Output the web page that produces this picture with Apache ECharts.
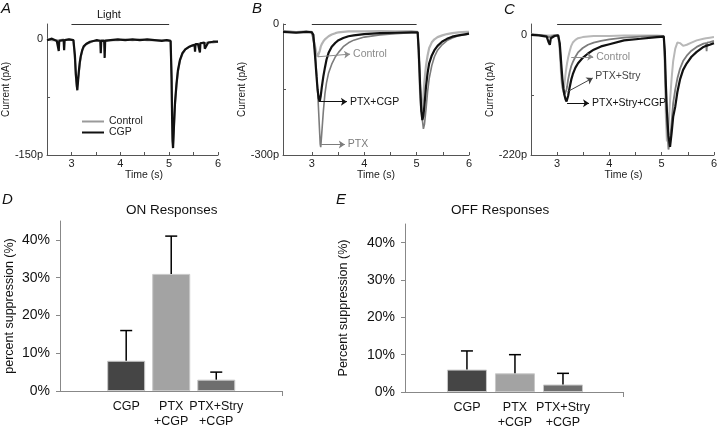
<!DOCTYPE html>
<html><head><meta charset="utf-8">
<script src="https://cdn.jsdelivr.net/npm/echarts@6/dist/echarts.min.js"></script>
<style>html,body{margin:0;padding:0;background:#fff}#c{width:720px;height:430px}</style>
</head><body><div id="c"></div>
<script>
// ---------- Panel A: time (s) and current (pA) ----------
const tA = [2.5,2.6,2.7,2.73,2.74,2.75,2.84,2.85,2.86,2.95,
  3.04,3.07,3.09,3.11,3.12,3.13,3.15,3.17,3.19,3.22,
  3.25,3.3,3.38,3.45,3.52,3.59,3.6,3.61,3.67,3.68,
  3.69,3.8,3.95,4.1,4.25,4.4,4.55,4.7,4.85,4.95,
  5.03,5.05,5.06,5.07,5.08,5.1,5.12,5.15,5.18,5.22,
  5.27,5.33,5.4,5.47,5.52,5.53,5.54,5.59,5.62,5.63,
  5.64,5.72,5.73,5.8,5.9,6.0];
const aCGP = [-1,1,-2,-1,-15,-2,-1,-14,-1,0,
  -1,-20,-45,-60,-66,-58,-42,-30,-22,-14,
  -9,-6,-3,-2,-1,-2,-18,-2,-2,-24,
  -2,-1,0,-1,0,-1,0,-1,-2,-1,
  -2,-50,-100,-132,-141,-110,-82,-58,-40,-27,
  -18,-13,-10,-8,-7,-16,-6,-6,-5,-17,
  -5,-4,-12,-4,-3,-3];
const aControl = [0,-1,-1,0,-3,-1,0,-4,-1,0,
  -1,-25,-48,-62,-64,-60,-45,-32,-23,-15,
  -10,-6,-4,-2,-2,-1,-3,-1,-1,-5,
  -1,-1,-1,0,-1,0,-1,-1,-1,-1,
  -2,-55,-100,-128,-136,-112,-85,-60,-42,-28,
  -19,-13,-10,-8,-7,-8,-7,-6,-6,-6,
  -5,-5,-5,-4,-4,-3];

// ---------- Panel B ----------
const tB = [2.45,2.7,2.9,3.0,3.03,3.06,3.09,3.11,3.13,3.15,
  3.16,3.17,3.19,3.22,3.25,3.28,3.32,3.38,3.45,3.51,
  3.6,3.7,3.8,4.0,4.3,4.6,4.9,5.02,5.04,5.07,
  5.09,5.11,5.13,5.15,5.18,5.21,5.24,5.29,5.34,5.4,
  5.49,5.58,5.68,5.8,5.95,6.0];
const bPtxCgp = [-18,-20,-18,-19,-25,-70,-120,-150,-170,-178,
  -175,-165,-145,-120,-100,-82,-66,-52,-43,-37,
  -32,-28,-26,-23,-21,-20,-19,-19,-60,-150,
  -200,-220,-210,-185,-143,-112,-90,-72,-60,-50,
  -40,-34,-29,-26,-23,-22];
const bPtx = [-16,-18,-17,-18,-22,-60,-110,-150,-200,-250,
  -275,-282,-250,-200,-160,-135,-112,-92,-75,-65,
  -52,-43,-37,-30,-25,-22,-20,-20,-55,-140,
  -190,-220,-240,-230,-195,-155,-125,-95,-75,-60,
  -47,-38,-32,-27,-24,-23];
const bControl = [-17,-19,-18,-18,-22,-50,-68,-75,-72,-62,
  -57,-52,-46,-40,-35,-31,-28,-24,-21,-19,
  -18,-17,-17,-17,-16,-17,-16,-18,-70,-170,
  -200,-190,-165,-130,-95,-72,-55,-42,-35,-30,
  -26,-23,-21,-19,-18,-18];

// ---------- Panel C ----------
const tC = [2.5,2.65,2.8,2.84,2.86,2.88,2.95,3.02,3.05,3.08,
  3.1,3.12,3.14,3.16,3.18,3.19,3.21,3.24,3.27,3.3,
  3.35,3.4,3.49,3.59,3.7,3.84,4.0,4.28,4.6,4.91,
  5.04,5.06,5.08,5.1,5.13,5.16,5.19,5.22,5.26,5.3,
  5.35,5.41,5.48,5.57,5.67,5.8,5.85,5.86,5.87,5.92,
  6.0];
const cPtxStryCgp = [0,-1,-3,-14,-18,-6,-2,-1,-15,-55,
  -80,-98,-110,-118,-122,-122,-112,-96,-82,-72,
  -60,-52,-42,-34,-27,-21,-17,-10,-7,-4,
  -3,-30,-90,-140,-185,-205,-180,-150,-131,-105,
  -82,-64,-52,-40,-31,-22,-20,-19,-19,-18,
  -15];
const cPtxStry = [1,0,-2,-4,-5,-3,-1,-1,-20,-65,
  -90,-104,-110,-110,-100,-95,-82,-68,-57,-50,
  -40,-32,-24,-18,-14,-11,-8,-5,-3,-2,
  -2,-40,-110,-165,-210,-195,-160,-125,-100,-80,
  -62,-48,-38,-29,-22,-16,-15,-30,-14,-13,
  -11];
const cControl = [1,0,-1,-1,-2,-1,0,0,-30,-80,
  -97,-101,-90,-72,-58,-52,-42,-30,-20,-14,
  -9,-6,-4,-3,-2,-2,-2,-1,-1,-1,
  -2,-60,-150,-195,-170,-120,-80,-48,-25,-14,
  -15,-20,-18,-14,-10,-7,-6,-6,-6,-5,
  -4];

// ---------- Panels D / E ----------
const barCats = ['CGP', 'PTX\n+CGP', 'PTX+Stry\n+CGP'];
const onVal = [8, 31, 3];
const onErr = [8, 10, 2];
const offVal = [6, 5, 2];
const offErr = [5, 5, 3];
const pctTicks = [0, 10, 20, 30, 40];

// tick labels
const timeTicks = [3, 4, 5, 6];
const timeMinor = [3, 3.5, 4, 4.5, 5, 5.5, 6];

const FONT = '"Liberation Sans", Arial, sans-serif';
const pairs = (t, v) => t.map((x, i) => [x, v[i]]);
const chart = echarts.init(document.getElementById('c'));

function traceX(gi, min, gap, padLeft) {
  return {
    type: 'value', gridIndex: gi, min: min, max: 6,
    axisLine: {show: true, onZero: false, lineStyle: {color: '#555', width: 1}},
    axisTick: {show: true, inside: true, length: 3, customValues: timeMinor, lineStyle: {color: '#555'}},
    axisLabel: {customValues: timeTicks, color: '#222', fontSize: 11, margin: 3, fontFamily: FONT},
    splitLine: {show: false},
    name: 'Time (s)', nameLocation: 'middle', nameGap: gap,
    nameTextStyle: {fontSize: 10.5, color: '#222', fontFamily: FONT, padding: [0, 0, 0, padLeft]}
  };
}
function traceY(gi, min, max, ticks, labels) {
  return {
    type: 'value', gridIndex: gi, min: min, max: max,
    axisLine: {show: true, onZero: false, lineStyle: {color: '#555', width: 1}},
    axisTick: {show: true, inside: true, length: 3, customValues: ticks, lineStyle: {color: '#555'}},
    axisLabel: {customValues: labels, formatter: v => v === 0 ? '0' : v + 'p', color: '#222', fontSize: 11, margin: 4, fontFamily: FONT},
    splitLine: {show: false},
    name: 'Current (pA)', nameLocation: 'middle', nameGap: 20,
    nameTextStyle: {fontSize: 10, color: '#222', fontFamily: FONT}
  };
}
function barX(gi, min, max) {
  return {
    type: 'value', gridIndex: gi, min: min, max: max,
    axisLine: {show: true, onZero: false, lineStyle: {color: '#888', width: 1}},
    axisTick: {show: true, length: 5, customValues: [max], lineStyle: {color: '#888'}},
    axisLabel: {customValues: [1, 2, 3], formatter: v => barCats[Math.round(v) - 1], hideOverlap: false,
      color: '#111', fontSize: 12.5, lineHeight: 15, margin: 8, fontFamily: FONT},
    splitLine: {show: false}
  };
}
function barY(gi, name, gap) {
  return {
    type: 'value', gridIndex: gi, min: 0, max: 45,
    axisLine: {show: true, onZero: false, lineStyle: {color: '#888', width: 1}},
    axisTick: {show: true, length: 4, customValues: pctTicks, lineStyle: {color: '#888'}},
    axisLabel: {customValues: pctTicks, formatter: v => v + '%', color: '#111', fontSize: 14, margin: 10, fontFamily: FONT},
    splitLine: {show: false},
    name: name, nameLocation: 'middle', nameGap: gap,
    nameTextStyle: {fontSize: 12.5, color: '#111', fontFamily: FONT}
  };
}
function trace(name, gi, t, v, color, width, extra) {
  return Object.assign({
    type: 'line', name: name, xAxisIndex: gi, yAxisIndex: gi, data: pairs(t, v),
    symbol: 'none', showSymbol: false, clip: false, silent: true,
    lineStyle: {color: color, width: width}, itemStyle: {color: color}
  }, extra || {});
}
function lightBar(y) {
  return [{coord: [3, y], symbol: 'none', lineStyle: {color: '#333', width: 1, type: 'solid'}, label: {show: false}},
          {coord: [5, y], symbol: 'none'}];
}
function arrow(from, to, text, color) {
  return [{coord: from, symbol: 'none', lineStyle: {color: color, width: 1, type: 'solid'},
           label: {show: true, position: 'end', formatter: text, color: color, fontSize: 10.5, distance: 3, fontFamily: FONT}},
          {coord: to, symbol: 'arrow'}];
}
function mark(data) {
  return {markLine: {silent: true, animation: false, symbolSize: 6, data: data}};
}
function errSeries(gi, vals, errs) {
  return {
    type: 'custom', xAxisIndex: gi, yAxisIndex: gi, z: 5, silent: true,
    data: vals.map((v, i) => [i + 1, v, v + errs[i]]),
    renderItem: function (params, api) {
      const x = api.value(0);
      const p0 = api.coord([x, api.value(1)]);
      const p1 = api.coord([x, api.value(2)]);
      const st = {stroke: '#000', lineWidth: 1.5};
      return {type: 'group', children: [
        {type: 'line', shape: {x1: p0[0], y1: p0[1], x2: p1[0], y2: p1[1]}, style: st},
        {type: 'line', shape: {x1: p1[0] - 6, y1: p1[1], x2: p1[0] + 6, y2: p1[1]}, style: st}
      ]};
    }
  };
}
const barColors = ['#454545', '#a3a3a3', '#6e6e6e'];
function barSeries(gi, vals, w) {
  return {
    type: 'bar', xAxisIndex: gi, yAxisIndex: gi, barWidth: w, silent: true,
    data: vals.map((v, i) => ({value: [i + 1, v], itemStyle: {color: barColors[i], borderColor: '#c8c8c8', borderWidth: 1}}))
  };
}
const ttl = (text, left, top, size, italic) => ({text: text, left: left, top: top, padding: 0,
  textStyle: {fontSize: size, fontWeight: 'normal', fontStyle: italic ? 'italic' : 'normal', color: '#111', fontFamily: FONT}});

chart.setOption({
  animation: false,
  backgroundColor: '#fff',
  title: [
    ttl('A', 1, 1, 15, true), ttl('B', 252, 1, 15, true), ttl('C', 504, 2, 15, true),
    ttl('D', 2, 192, 15, true), ttl('E', 336, 192, 15, true),
    ttl('Light', 97, 9, 11, false),
    ttl('ON Responses', 126, 203, 13.5, false), ttl('OFF Responses', 451, 203, 13.5, false)
  ],
  legend: {data: ['Control', 'CGP'], orient: 'vertical', left: 82, top: 116, icon: 'rect',
    itemWidth: 22, itemHeight: 2, itemGap: 0, padding: 0, selectedMode: false,
    textStyle: {fontSize: 10.5, lineHeight: 11, color: '#222', fontFamily: FONT}},
  grid: [
    {left: 33, top: 24, width: 185, height: 131},
    {left: 283, top: 24, width: 186, height: 131},
    {left: 531, top: 24, width: 185, height: 131},
    {left: 60, top: 221, width: 222, height: 170},
    {left: 405, top: 224, width: 218, height: 172}
  ],
  xAxis: [traceX(0, 2.5, 7, 23), traceX(1, 2.45, 12, 0), traceX(2, 2.5, 4, 2),
          barX(3, -0.47, 4.46), barX(4, -0.29, 4.25)],
  yAxis: [traceY(0, -150, 20, [-150, -75, 0], [-150, 0]),
          traceY(1, -300, 0, [-300, -150, 0], [-300, 0]),
          traceY(2, -220, 20, [-220, -110, 0], [-220, 0]),
          barY(3, 'percent suppression (%)', 44), barY(4, 'Percent suppression (%)', 55)],
  series: [
    trace('Control', 0, tA, aControl, '#9a9a9a', 2),
    trace('CGP', 0, tA, aCGP, '#111', 2.2, mark([lightBar(20)])),
    trace('B Control', 1, tB, bControl, '#b3b3b3', 2.2,
      mark([arrow([3.12, -75], [3.73, -69], 'Control', '#8c8c8c')])),
    trace('B PTX', 1, tB, bPtx, '#7c7c7c', 1.6,
      mark([arrow([3.18, -276], [3.63, -276], 'PTX', '#7c7c7c')])),
    trace('B PTX+CGP', 1, tB, bPtxCgp, '#111', 2.2,
      mark([lightBar(0), arrow([3.16, -178], [3.67, -178], 'PTX+CGP', '#111')])),
    trace('C Control', 2, tC, cControl, '#b8b8b8', 2,
      mark([arrow([3.27, -40], [3.69, -40], 'Control', '#8c8c8c')])),
    trace('C PTX+Stry', 2, tC, cPtxStry, '#7c7c7c', 1.8,
      mark([arrow([3.2, -104], [3.68, -79], 'PTX+Stry', '#444')])),
    trace('C PTX+Stry+CGP', 2, tC, cPtxStryCgp, '#111', 2.2,
      mark([lightBar(20), arrow([3.19, -125], [3.61, -125], 'PTX+Stry+CGP', '#111')])),
    barSeries(3, onVal, 38), errSeries(3, onVal, onErr),
    barSeries(4, offVal, 40), errSeries(4, offVal, offErr)
  ]
});
</script></body></html>
